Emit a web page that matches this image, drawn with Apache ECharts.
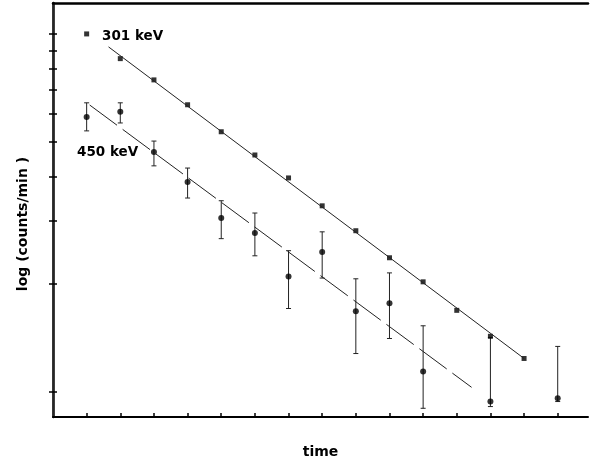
<!DOCTYPE html>
<html><head><meta charset="utf-8">
<script src="https://cdn.jsdelivr.net/npm/echarts@6/dist/echarts.min.js"></script>
<style>html,body{margin:0;padding:0;background:#fff}#c{width:590px;height:463px}</style>
</head><body><div id="c"></div>
<script>
// ---- data ----
const timeTicks = [1,2,3,4,5,6,7,8,9,10,11,12,13,14,15];
const countTicks = [1,2,3,4,5,6,7,8,9,10];

const t301 = [1,2,3,4,5,6,7,8,9,10,11,12,13,14];
const counts301 = [10.0, 8.53, 7.44, 6.34, 5.33, 4.59, 3.96, 3.31, 2.82, 2.37, 2.03, 1.69, 1.43, 1.24];

const t450 = [1,2,3,4,5,6,7,8,9,10,11,13,15];
const counts450 = [5.86, 6.06, 4.68, 3.86, 3.06, 2.78, 2.10, 2.46, 1.68, 1.77, 1.14, 0.94, 0.96];
const err450High = [6.42, 6.42, 5.02, 4.22, 3.42, 3.16, 2.48, 2.80, 2.07, 2.15, 1.53, 1.42, 1.34];
const err450Low  = [5.36, 5.64, 4.28, 3.48, 2.68, 2.40, 1.71, 2.08, 1.28, 1.41, 0.90, 0.91, 0.94];

const fit301T = [1.65, 14];
const fit301 = [9.2, 1.24];
const fit450T = [1.09, 12.44];
const fit450 = [6.33, 1.03];

const label301 = '301 keV';
const label450 = '450 keV';
const yName = 'log (counts/min )';
const xName = 'time';

// ---- chart ----
const zip = (a, b) => a.map((v, i) => [v, b[i]]);
const chart = echarts.init(document.getElementById('c'), null, {renderer: 'canvas'});
const FONT = '"DejaVu Sans", sans-serif';
const ink = '#000';

const yAxisBase = {
  type: 'log', min: 0.851, max: 12.2, logBase: 10,
  axisLabel: {show: false},
  splitLine: {show: false},
  minorTick: {show: false},
  axisTick: {show: true, inside: true, length: 4, customValues: countTicks, lineStyle: {color: ink, width: 1.5}}
};

chart.setOption({
  animation: false,
  backgroundColor: '#fff',
  grid: {left: 53, right: 2, top: 3, bottom: 46, containLabel: false, outerBoundsMode: 'none'},
  xAxis: [
    {
      type: 'value', min: 0, max: 15.9,
      name: xName, nameLocation: 'middle', nameGap: 28,
      nameTextStyle: {fontFamily: FONT, fontWeight: 'bold', fontSize: 14, color: ink},
      axisLine: {show: true, lineStyle: {color: ink, width: 2}},
      axisTick: {show: true, inside: true, length: 4, customValues: timeTicks, lineStyle: {color: ink, width: 1.5}},
      axisLabel: {show: false},
      splitLine: {show: false}
    },
    {
      type: 'value', min: 0, max: 15.9, position: 'top',
      axisLine: {show: true, lineStyle: {color: ink, width: 2.5}},
      axisTick: {show: false}, axisLabel: {show: false}, splitLine: {show: false}
    }
  ],
  yAxis: [
    Object.assign({}, yAxisBase, {position: 'left', axisLine: {show: true, lineStyle: {color: ink, width: 2.5}}}),
    Object.assign({}, yAxisBase, {position: 'right', axisLine: {show: true, lineStyle: {color: '#333', width: 1.5}}})
  ],
  graphic: [
    {type: 'text', left: 102, top: 29, style: {text: label301, font: 'bold 13.5px "DejaVu Sans"', fill: ink}},
    {type: 'text', left: 77, top: 145, style: {text: label450, font: 'bold 13.5px "DejaVu Sans"', fill: ink}},
    {type: 'text', x: 23, y: 224, rotation: Math.PI / 2,
     style: {text: yName, font: 'bold 14px "DejaVu Sans"', fill: ink, align: 'center', verticalAlign: 'middle'}}
  ],
  series: [
    {
      type: 'line', data: zip(fit301T, fit301), showSymbol: false, silent: true,
      lineStyle: {color: '#222', width: 1}
    },
    {
      type: 'line', data: zip(fit450T, fit450), showSymbol: false, silent: true,
      lineStyle: {color: '#222', width: 1, type: [34, 7]}
    },
    {
      type: 'custom',
      data: t450.map((t, i) => [t, err450Low[i], err450High[i]]),
      encode: {x: 0, y: [1, 2]},
      renderItem: function (params, api) {
        const x = api.value(0), lo = api.value(1), hi = api.value(2);
        const pLo = api.coord([x, lo]);
        const pHi = api.coord([x, hi]);
        const w = 2.5;
        const st = {stroke: '#222', lineWidth: 1};
        return {type: 'group', children: [
          {type: 'line', shape: {x1: pLo[0], y1: pLo[1], x2: pHi[0], y2: pHi[1]}, style: st},
          {type: 'line', shape: {x1: pLo[0] - w, y1: pLo[1], x2: pLo[0] + w, y2: pLo[1]}, style: st},
          {type: 'line', shape: {x1: pHi[0] - w, y1: pHi[1], x2: pHi[0] + w, y2: pHi[1]}, style: st}
        ]};
      }
    },
    {
      type: 'scatter', data: zip(t301, counts301), symbol: 'rect', symbolSize: 5,
      itemStyle: {color: ink}
    },
    {
      type: 'scatter', data: zip(t450, counts450), symbol: 'circle', symbolSize: 6,
      itemStyle: {color: ink}
    }
  ]
});
</script>
</body></html>
